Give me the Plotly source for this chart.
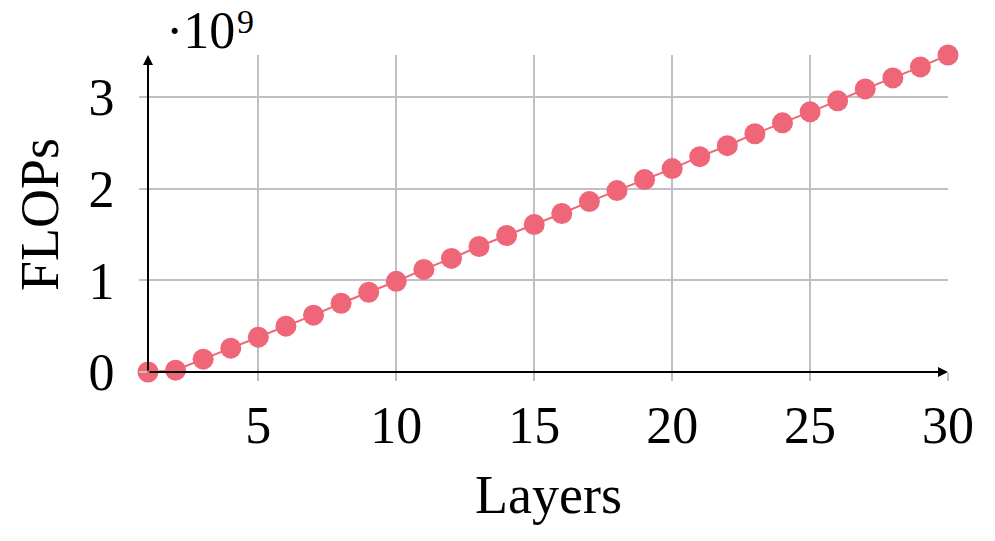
import plotly.graph_objects as go

layers = list(range(1, 31))
flops_e9 = [0.0, 0.02, 0.14, 0.26, 0.38, 0.50, 0.62, 0.75, 0.87, 0.99,
            1.12, 1.24, 1.37, 1.49, 1.61, 1.73, 1.86, 1.98, 2.10, 2.22,
            2.35, 2.47, 2.60, 2.72, 2.84, 2.96, 3.09, 3.21, 3.33, 3.46]
flops = [v * 1e9 for v in flops_e9]
x_ticks = [5, 10, 15, 20, 25, 30]
y_ticks = [0, 1e9, 2e9, 3e9]
y_tick_text = ["0", "1", "2", "3"]

FONT = "Liberation Serif"
RED = "#EE6677"
GRID = "#c0c0c0"

fig = go.Figure(
    go.Scatter(
        x=layers, y=flops, mode="lines+markers",
        line=dict(color=RED, width=2),
        marker=dict(color=RED, size=21),
        cliponaxis=False,
        showlegend=False,
    )
)

# axis lines with arrow heads (pgfplots style)
fig.add_annotation(x=30, y=0, ax=1, ay=0, xref="x", yref="y", axref="x", ayref="y",
                   showarrow=True, arrowhead=2, arrowsize=1, arrowwidth=2,
                   arrowcolor="black", text="")
fig.add_annotation(x=1, y=3.46e9, ax=1, ay=0, xref="x", yref="y", axref="x", ayref="y",
                   showarrow=True, arrowhead=2, arrowsize=1, arrowwidth=2,
                   arrowcolor="black", text="")

# scale factor label, split so the exponent sits where pgfplots puts it
fig.add_annotation(
    x=0.065, y=1.078, xref="paper", yref="paper", xanchor="center", yanchor="middle",
    text="·10", showarrow=False, borderpad=0,
    font=dict(family=FONT, size=52, color="black"),
)
fig.add_annotation(
    x=0.1215, y=1.107, xref="paper", yref="paper", xanchor="center", yanchor="middle",
    text="9", showarrow=False, borderpad=0,
    font=dict(family=FONT, size=34, color="black"),
)
fig.add_annotation(
    x=0.5, y=-0.388, xref="paper", yref="paper", xanchor="center", yanchor="middle",
    text="Layers", showarrow=False, font=dict(family=FONT, size=54, color="black"),
)
fig.add_annotation(
    x=-0.135, y=0.495, xref="paper", yref="paper", xanchor="center", yanchor="middle",
    text="FLOPs", textangle=-90, showarrow=False,
    font=dict(family=FONT, size=54, color="black"),
)

fig.update_layout(
    width=995, height=541,
    margin=dict(l=140, r=55, t=47, b=177),
    plot_bgcolor="white", paper_bgcolor="white",
    font=dict(family=FONT, size=52, color="black"),
)
fig.update_xaxes(
    range=[1, 30], tickvals=x_ticks, showgrid=True, gridcolor=GRID, gridwidth=1.5,
    zeroline=False, showline=False, ticks="outside", ticklen=8, tickcolor=GRID,
    tickwidth=1.5, ticklabelstandoff=0,
)
fig.update_yaxes(
    range=[0, 3.46e9], tickvals=y_ticks, ticktext=y_tick_text, showgrid=True,
    gridcolor=GRID, gridwidth=1.5, zeroline=False, showline=False,
    ticks="outside", ticklen=8, tickcolor=GRID, tickwidth=1.5, ticklabelstandoff=14,
)

fig.write_html("out.html")
